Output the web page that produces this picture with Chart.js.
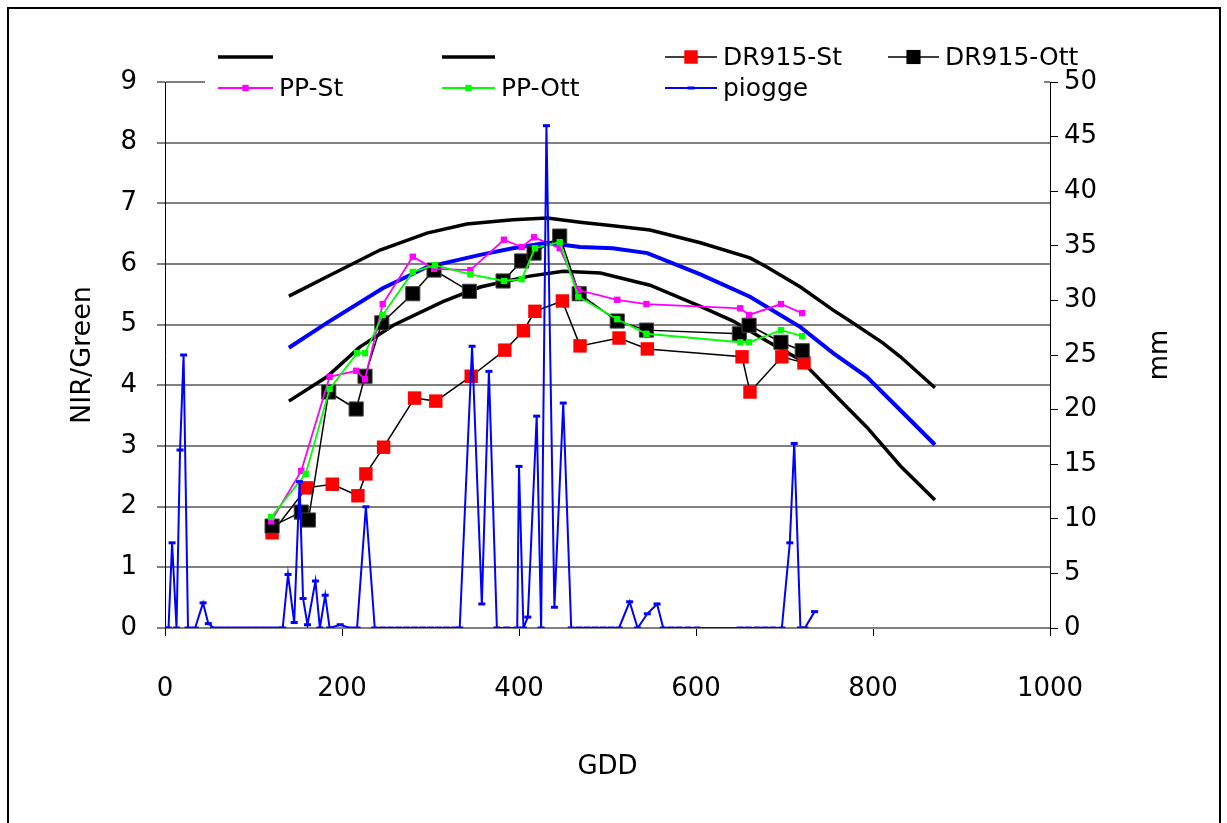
<!DOCTYPE html>
<html>
<head>
<meta charset="utf-8">
<script src="https://cdn.jsdelivr.net/npm/chart.js@4.4.1/dist/chart.umd.min.js"></script>
<style>
  body { margin: 0; background: #fff; }
  #wrap { width: 1227px; height: 823px; }
</style>
</head>
<body>
<div id="wrap"><canvas id="myChart" width="1227" height="823"></canvas></div>
<script>
// envelope curves (NIR/Green vs GDD)
const upperGdd = [140, 183, 243, 296, 341, 393, 432, 469, 506, 548, 605, 661, 680, 718, 755, 774, 811, 831, 870];
const upperVal = [5.47, 5.79, 6.23, 6.51, 6.66, 6.73, 6.76, 6.69, 6.63, 6.56, 6.35, 6.10, 5.95, 5.62, 5.24, 5.06, 4.70, 4.47, 3.96];

const meanGdd = [140, 183, 246, 296, 356, 393, 432, 469, 506, 545, 605, 661, 718, 755, 793, 831, 870];
const meanVal = [4.62, 5.03, 5.60, 5.95, 6.15, 6.26, 6.35, 6.28, 6.26, 6.18, 5.83, 5.46, 4.96, 4.53, 4.14, 3.59, 3.02];

const lowerGdd = [140, 183, 220, 258, 314, 356, 412, 450, 492, 548, 605, 642, 680, 718, 755, 793, 831, 870];
const lowerVal = [3.74, 4.14, 4.63, 4.99, 5.38, 5.62, 5.80, 5.88, 5.85, 5.65, 5.30, 5.06, 4.73, 4.42, 3.87, 3.31, 2.67, 2.11];

// measured series
const drStGdd = [121, 160, 189, 218, 227, 247, 282, 306, 346, 384, 405, 418, 449, 469, 513, 545, 652, 661, 697, 722];
const drStVal = [1.57, 2.31, 2.37, 2.18, 2.54, 2.98, 3.79, 3.74, 4.15, 4.58, 4.90, 5.22, 5.39, 4.65, 4.78, 4.60, 4.47, 3.89, 4.47, 4.37];

const drOttGdd = [121, 154, 162, 185, 216, 226, 245, 280, 304, 344, 382, 403, 417, 446, 468, 511, 544, 649, 660, 696, 720];
const drOttVal = [1.68, 1.91, 1.78, 3.89, 3.61, 4.15, 5.03, 5.51, 5.90, 5.55, 5.72, 6.05, 6.18, 6.46, 5.51, 5.06, 4.91, 4.85, 4.99, 4.71, 4.57];

const ppStGdd = [120, 154, 186, 216, 226, 246, 280, 304, 345, 383, 403, 417, 446, 467, 511, 544, 650, 660, 696, 720];
const ppStVal = [1.76, 2.59, 4.14, 4.24, 4.10, 5.34, 6.12, 5.92, 5.90, 6.40, 6.28, 6.44, 6.26, 5.57, 5.41, 5.34, 5.27, 5.16, 5.34, 5.19];

const ppOttGdd = [120, 159, 186, 217, 226, 246, 280, 305, 345, 383, 403, 418, 446, 467, 511, 544, 650, 660, 696, 720];
const ppOttVal = [1.83, 2.54, 3.94, 4.53, 4.53, 5.16, 5.87, 5.98, 5.83, 5.72, 5.75, 6.26, 6.36, 5.46, 5.09, 4.85, 4.71, 4.71, 4.91, 4.81];

// rainfall (mm, right axis)
const rainGdd = [0, 4, 8, 13, 17, 21, 26, 34, 43, 49, 55, 63, 71, 79, 87, 95, 103, 111, 119, 127,
  133, 139, 146, 152, 156, 161, 170, 175, 181, 186, 198, 209, 217, 227, 237, 246, 255, 264, 273, 282,
  291, 300, 309, 318, 327, 333, 347, 358, 366, 375, 386, 398, 400, 405, 410, 420, 425, 431, 440, 450,
  459, 468, 477, 486, 495, 504, 513, 525, 534, 545, 556, 563, 572, 581, 591, 601, 650, 659, 669, 678,
  687, 697, 706, 711, 718, 723, 734];
const rainMm = [0, 0, 7.8, 0, 16.3, 25, 0, 0, 2.3, 0.4, 0, 0, 0, 0, 0, 0, 0, 0, 0, 0,
  0, 4.9, 0.5, 13.4, 2.7, 0.3, 4.3, 0, 3.0, 0, 0.3, 0, 0, 11.1, 0, 0, 0, 0, 0, 0,
  0, 0, 0, 0, 0, 0, 25.8, 2.2, 23.5, 0, 0, 0, 14.8, 0, 1.0, 19.4, 0, 46, 1.9, 20.6,
  0, 0, 0, 0, 0, 0, 0, 2.4, 0, 1.3, 2.2, 0, 0, 0, 0, 0, 0, 0, 0, 0,
  0, 0, 7.8, 16.9, 0, 0, 1.5];

const xTicks = [0, 200, 400, 600, 800, 1000];
const rightTitle = 'mm';

function pts(xs, ys) {
    return xs.map((x, i) => ({x: x, y: ys[i]}));
}

Chart.defaults.font.family = '"DejaVu Sans", sans-serif';
Chart.defaults.color = '#000';

const frame = {
    id: 'frame',
    beforeDraw(chart) {
        const ctx = chart.ctx;
        ctx.save();
        ctx.fillStyle = '#fff';
        ctx.fillRect(0, 0, chart.width, chart.height);
        ctx.strokeStyle = '#000';
        ctx.lineWidth = 2;
        ctx.strokeRect(8, 8, 1212, 840);
        ctx.restore();
    },
    afterDraw(chart) {
        // secondary axis title, rotated like the excel one
        const ctx = chart.ctx;
        const area = chart.chartArea;
        ctx.save();
        ctx.translate(1160, (area.top + area.bottom) / 2);
        ctx.rotate(-Math.PI / 2);
        ctx.font = '26px "DejaVu Sans", sans-serif';
        ctx.fillStyle = '#000';
        ctx.textAlign = 'center';
        ctx.textBaseline = 'middle';
        ctx.fillText(rightTitle, 0, 0);
        ctx.restore();
    }
};

// excel style legend, 4 columns x 2 rows
const legendBox = {
    id: 'legendBox',
    afterDraw(chart) {
        const ctx = chart.ctx;
        const lineX0 = [218, 442, 665, 888];
        const lineX1 = [273, 495, 717, 939];
        const rowY = [57, 88];
        const items = ['upper', 'lower', 'DR915-St', 'DR915-Ott', 'PP-St', 'PP-Ott', 'piogge'];
        ctx.save();
        ctx.fillStyle = '#fff';
        ctx.fillRect(205, 40, 839, 60);
        items.forEach((key, i) => {
            const ds = chart.data.datasets.find(d => d.key === key);
            const col = i % 4, row = Math.floor(i / 4);
            const x0 = lineX0[col], x1 = lineX1[col], y = rowY[row];
            const cx = (x0 + x1) / 2;
            ctx.strokeStyle = ds.borderColor;
            ctx.lineWidth = ds.borderWidth;
            ctx.beginPath();
            ctx.moveTo(x0, y);
            ctx.lineTo(x1, y);
            ctx.stroke();
            if (ds.pointRadius > 0) {
                if (ds.pointStyle === 'rect') {
                    const s = ds.pointRadius * Math.SQRT1_2;
                    ctx.fillStyle = ds.pointBackgroundColor;
                    ctx.fillRect(cx - s, y - s, 2 * s, 2 * s);
                } else {
                    ctx.strokeStyle = ds.pointBorderColor;
                    ctx.lineWidth = ds.pointBorderWidth;
                    ctx.beginPath();
                    ctx.moveTo(cx - ds.pointRadius, y);
                    ctx.lineTo(cx + ds.pointRadius, y);
                    ctx.stroke();
                }
            }
            if (ds.label) {
                ctx.fillStyle = '#000';
                ctx.font = '25px "DejaVu Sans", sans-serif';
                ctx.textBaseline = 'middle';
                ctx.fillText(ds.label, x1 + 6, y + 1);
            }
        });
        ctx.restore();
    }
};

const ctx = document.getElementById('myChart').getContext('2d');

new Chart(ctx, {
    type: 'line',
    data: {
        datasets: [
            {
                key: 'upper', label: '', data: pts(upperGdd, upperVal),
                borderColor: '#000', borderWidth: 3.5, pointRadius: 0, order: 7, yAxisID: 'y'
            },
            {
                key: 'lower', label: '', data: pts(lowerGdd, lowerVal),
                borderColor: '#000', borderWidth: 3.5, pointRadius: 0, order: 6, yAxisID: 'y'
            },
            {
                key: 'mean', label: '', data: pts(meanGdd, meanVal),
                borderColor: '#0000ff', borderWidth: 4, pointRadius: 0, order: 5, yAxisID: 'y'
            },
            {
                key: 'DR915-St', label: 'DR915-St', data: pts(drStGdd, drStVal),
                borderColor: '#000', borderWidth: 1.5, pointStyle: 'rect', pointRadius: 9.5,
                pointBackgroundColor: '#ff0000', pointBorderColor: '#ff0000', pointBorderWidth: 0,
                order: 4, yAxisID: 'y'
            },
            {
                key: 'DR915-Ott', label: 'DR915-Ott', data: pts(drOttGdd, drOttVal),
                borderColor: '#000', borderWidth: 1.5, pointStyle: 'rect', pointRadius: 10,
                pointBackgroundColor: '#000', pointBorderColor: '#444', pointBorderWidth: 1,
                order: 3, yAxisID: 'y'
            },
            {
                key: 'PP-St', label: 'PP-St', data: pts(ppStGdd, ppStVal),
                borderColor: '#ff00ff', borderWidth: 1.8, pointStyle: 'rect', pointRadius: 4.5,
                pointBackgroundColor: '#ff00ff', pointBorderColor: '#ff00ff', pointBorderWidth: 0,
                order: 2, yAxisID: 'y'
            },
            {
                key: 'PP-Ott', label: 'PP-Ott', data: pts(ppOttGdd, ppOttVal),
                borderColor: '#00ff00', borderWidth: 1.8, pointStyle: 'rect', pointRadius: 4.5,
                pointBackgroundColor: '#00ff00', pointBorderColor: '#00ff00', pointBorderWidth: 0,
                order: 1, yAxisID: 'y'
            },
            {
                key: 'piogge', label: 'piogge', data: pts(rainGdd, rainMm),
                borderColor: '#0000ff', borderWidth: 2, pointStyle: 'line', pointRadius: 3.5,
                pointBorderColor: '#0000ff', pointBorderWidth: 3,
                order: 0, yAxisID: 'y2'
            }
        ]
    },
    options: {
        responsive: false,
        animation: false,
        layout: { padding: { top: 82, left: 0, right: 0, bottom: 0 } },
        plugins: {
            legend: { display: false },
            tooltip: { enabled: false }
        },
        scales: {
            x: {
                type: 'linear', min: 0, max: 1000,
                afterBuildTicks: s => { s.ticks = xTicks.map(v => ({value: v})); },
                ticks: { font: { size: 26 }, padding: 38, maxRotation: 0, callback: v => String(v) },
                grid: { drawOnChartArea: false, tickLength: 8, tickColor: '#000', color: '#000' },
                border: { color: '#808080', width: 2 },
                title: { display: true, text: 'GDD', font: { size: 26 }, padding: { top: 0, bottom: 40 } },
                afterFit: s => { s.height = 195; }
            },
            y: {
                position: 'left', min: 0, max: 9,
                ticks: { stepSize: 1, font: { size: 26 }, padding: 20 },
                grid: { color: '#808080', lineWidth: 2, tickColor: '#000', tickWidth: 1, tickLength: 8 },
                border: { color: '#000', width: 1 },
                title: { display: true, text: 'NIR/Green', font: { size: 27 }, padding: { top: 67, bottom: 0 } },
                afterFit: s => { s.width = 165; }
            },
            y2: {
                position: 'right', min: 0, max: 50,
                ticks: { stepSize: 5, font: { size: 26 }, padding: 6 },
                grid: { drawOnChartArea: false, tickColor: '#000', tickLength: 8 },
                border: { color: '#000', width: 1 },
                title: { display: false },
                afterFit: s => { s.width = 177; }
            }
        }
    },
    plugins: [frame, legendBox]
});
</script>
</body>
</html>
